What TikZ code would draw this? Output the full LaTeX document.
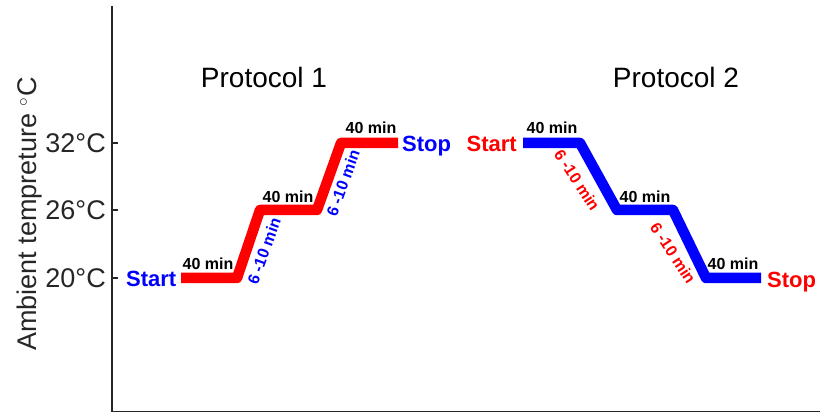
\documentclass[tikz,border=0pt]{standalone}
\usepackage{fontspec}
\setmainfont{Liberation Sans}
\definecolor{axgray}{RGB}{38,38,38}
\begin{document}
\begin{tikzpicture}[x=1pt,y=-1pt,
  ax/.style={draw=axgray, line width=1.2pt},
  trace/.style={line width=10.5pt, line join=round},
  title/.style={font=\fontsize{28}{32}\selectfont, anchor=base, inner sep=0pt},
  ticklab/.style={font=\fontsize{27}{30}\selectfont, anchor=base east, inner sep=0pt, text=axgray},
  dur/.style={font=\bfseries\fontsize{16}{18}\selectfont, anchor=base, inner sep=0pt},
  ss/.style={font=\bfseries\fontsize{22}{24}\selectfont, inner sep=0pt}]
\useasboundingbox (0,0) rectangle (820,414);
% axes
\coordinate (atop) at (112,6);
\coordinate (aorig) at (112,411.5);
\coordinate (aright) at (820,411.5);
\draw[ax] (atop) -- (aorig) -- (aright);
\foreach \y/\n in {143/32,210/26,278/20}{
  \coordinate (tk\n) at (112,\y);
  \draw[ax] (tk\n) -- ++(6,0);
  \node[ticklab] (tl\n) at (106,\y+9.7) {\n°C};
}
\node[font=\fontsize{27}{30}\selectfont, rotate=90, text=axgray] (ylab) at (30,214) {Ambient tempreture $^\circ$C};
% titles
\node[title] (t1) at (264,88) {Protocol 1};
\node[title] (t2) at (676,88) {Protocol 2};
% protocol 1
\coordinate (a0) at (181,278);
\coordinate (a1) at (237,278);
\coordinate (a2) at (260,210);
\coordinate (a3) at (317,210);
\coordinate (a4) at (341,143);
\coordinate (a5) at (398,143);
\draw[trace, red] (a0) -- (a1) -- (a2) -- (a3) -- (a4) -- (a5);
\node[ss, blue, anchor=base east] (st1) at (176.5,287) {Start};
\node[ss, blue, anchor=base west] (sp1) at (402,152) {Stop};
\node[dur] (d11) at (208,270) {40 min};
\node[dur] (d12) at (288,203) {40 min};
\node[dur] (d13) at (371,134) {40 min};
\node[dur, anchor=center, blue, rotate=70] (r11) at (264,251) {6 -10 min};
\node[dur, anchor=center, blue, rotate=70] (r12) at (343,183) {6 -10 min};
% protocol 2
\coordinate (b0) at (523,143);
\coordinate (b1) at (580,143);
\coordinate (b2) at (617,210);
\coordinate (b3) at (673,210);
\coordinate (b4) at (706,278);
\coordinate (b5) at (761,278);
\draw[trace, blue] (b0) -- (b1) -- (b2) -- (b3) -- (b4) -- (b5);
\node[ss, red, anchor=base east] (st2) at (517,152) {Start};
\node[ss, red, anchor=base west] (sp2) at (767,288) {Stop};
\node[dur] (d21) at (552,134) {40 min};
\node[dur] (d22) at (645,203) {40 min};
\node[dur] (d23) at (733,270) {40 min};
\node[dur, anchor=center, red, rotate=-57] (r21) at (577,180) {6 -10 min};
\node[dur, anchor=center, red, rotate=-57] (r22) at (673,253) {6 -10 min};
\end{tikzpicture}
\end{document}
